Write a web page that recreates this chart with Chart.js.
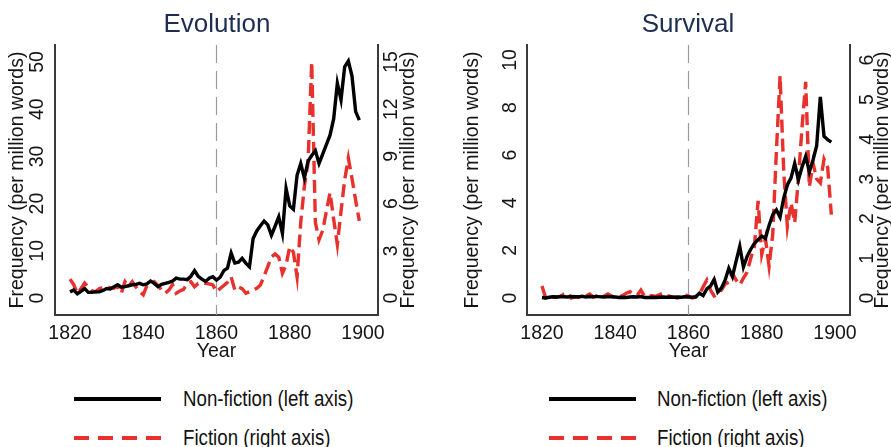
<!DOCTYPE html>
<html>
<head>
<meta charset="utf-8">
<script src="https://cdn.jsdelivr.net/npm/chart.js@4.4.1/dist/chart.umd.min.js"></script>
<style>
  html, body { margin:0; padding:0; background:#fff; }
  body { width:891px; height:447px; overflow:hidden; position:relative; font-family:"Liberation Sans", Arial, sans-serif; }
  #w1 { position:absolute; left:0; top:0; width:434px; height:370px; }
  #w2 { position:absolute; left:455px; top:0; width:466px; height:370px; }
  .legrow { position:absolute; height:30px; }
  .legrow svg { position:absolute; left:0; top:0; }
  .legtxt { position:absolute; top:2px; white-space:nowrap; font-size:22px; color:#111; transform:scaleX(0.85); transform-origin:left center; line-height:26px; }
</style>
</head>
<body>
<div id="w1"><canvas id="c1" width="434" height="370"></canvas></div>
<div id="w2"><canvas id="c2" width="466" height="370"></canvas></div>
<div id="legend"></div>
<script>
// ---------- data ----------
const years = [1820,1821,1822,1823,1824,1825,1826,1827,1828,1829,
               1830,1831,1832,1833,1834,1835,1836,1837,1838,1839,
               1840,1841,1842,1843,1844,1845,1846,1847,1848,1849,
               1850,1851,1852,1853,1854,1855,1856,1857,1858,1859,
               1860,1861,1862,1863,1864,1865,1866,1867,1868,1869,
               1870,1871,1872,1873,1874,1875,1876,1877,1878,1879,
               1880,1881,1882,1883,1884,1885,1886,1887,1888,1889,
               1890,1891,1892,1893,1894,1895,1896,1897,1898,1899];

// Evolution – non-fiction (left axis)
const evoNonfiction = [1.3,1.7,0.9,1.4,2.0,1.2,1.2,1.3,1.3,1.6,
                       2.0,1.9,2.4,2.8,2.3,2.4,2.6,2.8,2.9,3.1,
                       2.8,3.0,3.6,3.1,2.4,2.9,3.1,3.3,3.6,4.2,
                       4.0,4.0,3.9,4.6,5.8,4.6,4.0,3.5,4.2,4.5,
                       3.8,4.4,5.8,6.3,9.5,7.4,7.6,8.4,7.4,6.6,
                       12.6,14.2,15.3,16.3,15.5,13.3,15.2,17.2,13.7,23.2,
                       19.5,18.8,26.0,28.5,25.4,29.0,30.2,31.2,28.5,30.5,
                       32.5,34.5,38.0,45.5,42.0,49.0,50.2,47.0,39.5,37.7];
// Evolution – fiction (right axis)
const evoFiction = [1.2,0.85,0.3,0.6,0.95,0.7,0.45,0.4,0.6,0.65,
                    0.72,0.65,0.62,0.75,0.3,1.04,0.72,1.04,0.7,0.4,
                    0.2,0.8,0.9,1.04,0.8,0.5,0.3,0.5,0.85,0.3,
                    0.45,0.55,0.93,1.04,0.72,0.93,0.95,0.93,0.9,0.83,
                    0.4,0.6,0.8,1.0,1.35,0.5,0.7,0.6,0.3,0.4,
                    0.5,0.62,0.83,1.4,2.0,2.6,2.8,2.6,1.57,2.1,
                    3.26,2.9,1.35,4.8,7.1,8.6,15.0,4.8,3.7,4.3,
                    5.5,6.7,5.0,3.4,5.5,7.5,8.9,7.6,6.2,4.9];
// Survival – non-fiction (left axis)
const survNonfiction = [0.02,0.0,0.03,0.05,0.04,0.06,0.05,0.04,0.06,0.05,
                        0.05,0.07,0.04,0.06,0.05,0.07,0.05,0.04,0.06,0.05,
                        0.04,0.02,0.03,0.02,0.04,0.05,0.04,0.06,0.02,0.02,
                        0.03,0.02,0.03,0.04,0.03,0.04,0.03,0.04,0.03,0.05,
                        0.04,0.03,0.06,0.2,0.1,0.38,0.5,0.78,0.25,0.42,
                        0.75,1.25,0.9,1.55,2.17,1.3,1.75,2.05,2.3,2.45,
                        2.6,2.5,3.05,3.5,3.7,3.4,4.2,4.75,5.05,5.66,
                        4.96,5.5,5.95,5.3,5.8,6.4,8.45,6.8,6.65,6.55];
// Survival – fiction (right axis)
const survFiction = [0.3,0.0,0.0,0.03,0.02,0.04,0.1,0.13,0.0,0.03,
                     0.02,0.04,0.05,0.1,0.03,0.05,0.09,0.05,0.1,0.05,
                     0.0,0.02,0.06,0.12,0.16,0.1,0.07,0.2,0.04,0.05,
                     0.06,0.04,0.08,0.12,0.07,0.04,0.02,0.0,0.03,0.08,
                     0.05,0.0,0.02,0.1,0.28,0.45,0.2,0.05,0.1,0.2,
                     0.35,0.4,0.62,0.45,0.33,0.5,0.65,1.0,1.3,2.45,
                     1.1,1.5,0.8,1.6,3.7,5.6,3.2,1.8,2.4,1.9,
                     3.0,4.3,5.45,2.8,3.4,3.0,2.9,3.5,3.3,2.1];

const xTicks = [1820,1840,1860,1880,1900];
const evoLeftTicks = [0,10,20,30,40,50];
const evoRightTicks = [0,3,6,9,12,15];
const survLeftTicks = [0,2,4,6,8,10];
const survRightTicks = [0,1,2,3,4,5,6];
const referenceYear = 1860;
const chartTitles = ["Evolution","Survival"];
const axisTitle = "Frequency (per million words)";
const xTitle = "Year";
const legendLabels = ["Non-fiction (left axis)","Fiction (right axis)"];

// ---------- styling ----------
const FONT = '"Liberation Sans", Arial, sans-serif';
const FS = 19.5;
const BLACK = '#000000';
const RED = '#e8302d';
const AXIS = '#3a3a3a';
const TXT = '#151515';
const TITLE = '#1e2e52';

function pts(xs, ys){ return xs.map((x,i)=>({x:x, y:ys[i]})); }

const refLine = {
  id:'refLine',
  beforeDatasetsDraw(chart, args, o){
    const ctx = chart.ctx, ca = chart.chartArea;
    const px = chart.scales.x.getPixelForValue(o.value);
    ctx.save();
    ctx.strokeStyle = o.color; ctx.lineWidth = 1.2; ctx.setLineDash(o.dash);
    ctx.beginPath(); ctx.moveTo(px, ca.top); ctx.lineTo(px, ca.bottom); ctx.stroke();
    ctx.restore();
  }
};
const rightTitle = {
  id:'rightTitle',
  afterDraw(chart, args, o){
    const ctx = chart.ctx, s = chart.scales.y1, ca = chart.chartArea;
    ctx.save();
    ctx.font = o.font; ctx.fillStyle = o.color; ctx.textAlign='center'; ctx.textBaseline='middle';
    ctx.translate(s.left + o.offset, (ca.top + ca.bottom)/2);
    ctx.rotate(-Math.PI/2);
    ctx.fillText(o.text, 0, 0);
    ctx.restore();
  }
};

function yScale(pos, min, max, tickVals, width, pad, showTitle){
  return {
    type:'linear', position:pos, min:min, max:max,
    afterBuildTicks: s => { s.ticks = tickVals.map(v=>({value:v})); },
    afterFit: s => { s.width = width; },
    grid:{ display:false, drawTicks:false },
    border:{ display:true, color:AXIS, width:2 },
    ticks:{ minRotation:90, maxRotation:90, crossAlign:'center', padding:pad, color:TXT,
            font:{ family:FONT, size:FS }, callback: v => String(v) },
    title:{ display:showTitle, text:axisTitle, color:TXT, font:{ family:FONT, size:FS }, padding:{ top:6.3, bottom:0 } }
  };
}

function makeChart(id, title, nf, fi, l, r, ly, ry){
  return new Chart(document.getElementById(id), {
    type:'line',
    data:{ datasets:[
      { label:legendLabels[0], data:pts(years, nf), yAxisID:'y', borderColor:BLACK, borderWidth:3.4,
        pointRadius:0, tension:0, order:1 },
      { label:legendLabels[1], data:pts(years, fi), yAxisID:'y1', borderColor:RED, borderWidth:3.4,
        borderDash:[13,6], pointRadius:0, tension:0, order:2 }
    ]},
    options:{
      responsive:false, animation:false, devicePixelRatio:1,
      layout:{ padding:0 },
      plugins:{
        legend:{ display:false }, tooltip:{ enabled:false },
        title:{ display:true, text:title, color:TITLE, font:{ family:FONT, size:26, weight:'normal' },
                padding:{ top:9.4, bottom:4.4 } },
        refLine:{ value:referenceYear, color:'#9a9a9a', dash:[18,8] },
        rightTitle:{ text:axisTitle, font:FS + 'px ' + FONT, color:TXT, offset:ry.titleOffset }
      },
      scales:{
        x:{ type:'linear', position:'bottom', min:1815.9, max:1904.1,
            afterBuildTicks: s => { s.ticks = xTicks.map(v=>({value:v})); },
            afterFit: s => { s.height = 55; },
            grid:{ display:false, drawTicks:false },
            border:{ display:true, color:AXIS, width:2 },
            ticks:{ maxRotation:0, minRotation:0, padding:7, color:TXT, autoSkip:false,
                    font:{ family:FONT, size:FS }, callback: v => String(v) },
            title:{ display:true, text:xTitle, color:TXT, font:{ family:FONT, size:FS }, padding:{ top:0, bottom:6.3 } } },
        y: yScale('left', ly.min, ly.max, l, ly.width, ly.pad, true),
        y1: yScale('right', ry.min, ry.max, r, ry.width, ry.pad, false)
      }
    },
    plugins:[refLine, rightTitle]
  });
}

makeChart('c1', chartTitles[0], evoNonfiction, evoFiction, evoLeftTicks, evoRightTicks,
  { min:-3.6, max:53.6, width:55, pad:7 },
  { min:-1.08, max:16.08, width:56, pad:3, titleOffset:31 });
makeChart('c2', chartTitles[1], survNonfiction, survFiction, survLeftTicks, survRightTicks,
  { min:-0.714, max:10.63, width:72, pad:6 },
  { min:-0.4286, max:6.378, width:71, pad:12.6, titleOffset:33 });

// ---------- legend (HTML) ----------
const legend = document.getElementById('legend');
const legendSpots = [{ lx:74, tx:183 }, { lx:549, tx:657 }];
legendSpots.forEach(sp => {
  legendLabels.forEach((lab, i) => {
    const row = document.createElement('div');
    row.className = 'legrow';
    const cy = i === 0 ? 399 : 438;
    row.style.left = sp.lx + 'px';
    row.style.top = (cy - 15) + 'px';
    row.style.width = '420px';
    const dash = i === 0 ? '' : 'stroke-dasharray="15 9"';
    row.innerHTML = '<svg width="90" height="30"><line x1="0" y1="15" x2="87" y2="15" stroke="' +
      (i === 0 ? BLACK : RED) + '" stroke-width="4" ' + dash + '/></svg>' +
      '<span class="legtxt" style="left:' + (sp.tx - sp.lx) + 'px">' + lab + '</span>';
    legend.appendChild(row);
  });
});
</script>
</body>
</html>
